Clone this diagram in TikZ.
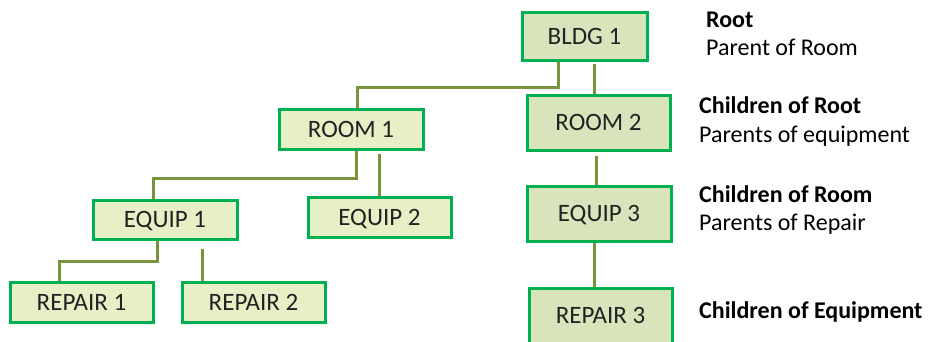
\documentclass[tikz,border=0pt]{standalone}
\usepackage{fontspec}
\setmainfont{Carlito}
\definecolor{boxline}{HTML}{00B050}
\definecolor{lightfill}{HTML}{E6EFC6}
\definecolor{darkfill}{HTML}{D8E4BC}
\definecolor{conn}{HTML}{77933C}
\definecolor{txt}{HTML}{222222}
\begin{document}
\begin{tikzpicture}[x=1pt,y=-1pt,
  box/.style={draw=boxline,line width=3pt,inner sep=0pt,text=txt,
    font=\fontsize{25}{29}\selectfont,text height=16pt,text depth=0pt},
  lbox/.style={box,fill=lightfill},
  dbox/.style={box,fill=darkfill},
  link/.style={draw=conn,line width=3pt},
  note/.style={anchor=base west,inner sep=0pt,text=black,font=\fontsize{24}{28}\selectfont},
  bnote/.style={note,font=\fontsize{24}{28}\selectfont\bfseries}]
\clip (0,0) rectangle (928,341);
\useasboundingbox (0,0) rectangle (928,341);
\fill[white] (0,0) rectangle (928,341);
% boxes
\node[dbox,minimum width=125pt,minimum height=48pt] (bldg) at (584.5,36) {BLDG 1};
\node[dbox,minimum width=143pt,minimum height=55pt] (room2) at (598.5,122.5) {ROOM 2};
\node[lbox,minimum width=144pt,minimum height=40pt] (room1) at (351,129) {ROOM 1};
\node[lbox,minimum width=143pt,minimum height=40pt] (equip2) at (379.5,217) {EQUIP 2};
\node[lbox,minimum width=144pt,minimum height=39pt] (equip1) at (165,219.5) {EQUIP 1};
\node[dbox,minimum width=144pt,minimum height=55pt] (equip3) at (599,213.5) {EQUIP 3};
\node[dbox,minimum width=143pt,minimum height=55pt] (repair3) at (600.5,315.5) {REPAIR 3};
\node[lbox,minimum width=143pt,minimum height=40pt] (repair1) at (81.5,302) {REPAIR 1};
\node[lbox,minimum width=143pt,minimum height=40pt] (repair2) at (253.5,302) {REPAIR 2};
% connectors
\draw[link] ([xshift=-26.5pt]bldg.south) -- ++(0,26) -| ([xshift=6pt]room1.north);
\coordinate (b2) at ([xshift=9.5pt,yshift=-2pt]bldg.south);
\draw[link] (b2) -- (b2 |- room2.north);
\draw[link] ([xshift=5pt]room1.south) -- ++(0,28) -| ([xshift=-12pt]equip1.north);
\coordinate (r1b) at ([xshift=28pt,yshift=-3pt]room1.south);
\draw[link] (r1b) -- (r1b |- equip2.north);
\draw[link] ([xshift=-8pt]equip1.south) -- ++(0,21) -| ([xshift=-22.5pt]repair1.north);
\coordinate (e1b) at ([xshift=37pt,yshift=-8pt]equip1.south);
\draw[link] (e1b) -- (e1b |- repair2.north);
\coordinate (r2b) at ([xshift=-2.5pt,yshift=-4pt]room2.south);
\draw[link] (r2b) -- (r2b |- equip3.north);
\coordinate (e3b) at ([xshift=-5pt]equip3.south);
\draw[link] (e3b) -- (e3b |- repair3.north);
% notes
\node[bnote] (n1) at (706,27) {Root};
\node[note] (n2) at (706,55) {Parent of Room};
\node[bnote] (n3) at (699,113) {Children of Root};
\node[note] (n4) at (699,142) {Parents of equipment};
\node[bnote] (n5) at (699,202) {Children of Room};
\node[note] (n6) at (699,230) {Parents of Repair};
\node[bnote] (n7) at (699,318) {Children of Equipment};
\end{tikzpicture}
\end{document}
